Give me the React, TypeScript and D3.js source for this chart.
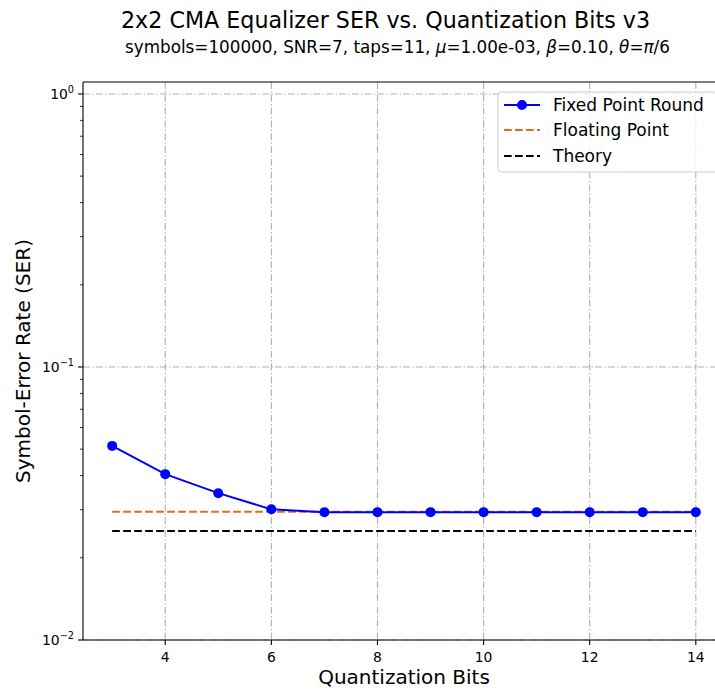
import React from 'react';
import * as d3 from 'd3';

// data
const bits = [3, 4, 5, 6, 7, 8, 9, 10, 11, 12, 13, 14];
const fixedRound = [0.0514, 0.0405, 0.0345, 0.0301, 0.0294, 0.0294, 0.0294, 0.0294, 0.0294, 0.0294, 0.0294, 0.0294];
const floatingPoint = [0.0295, 0.0295, 0.0295, 0.0295, 0.0295, 0.0295, 0.0295, 0.0295, 0.0295, 0.0295, 0.0295, 0.0295];
const theory = [0.0251, 0.0251, 0.0251, 0.0251, 0.0251, 0.0251, 0.0251, 0.0251, 0.0251, 0.0251, 0.0251, 0.0251];
const xTicks = [4, 6, 8, 10, 12, 14];
const yTicks = [1, 0.1, 0.01];
const yTickExp = ['0', '\u22121', '\u22122'];

const W = 715;
const H = 691;
const plot = { left: 83, right: 725, top: 82, bottom: 640 };
const FONT = '"DejaVu Sans", sans-serif';
const GRID_DASH = '7 2.2 1.4 2.2';

const App = () => {
  const x = d3.scaleLinear().domain([2.45, 14.55]).range([plot.left, plot.right]);
  const y = d3.scaleLog().domain([0.01, 1.106]).range([plot.bottom, plot.top]);

  const line = d3.line<number>()
    .x((d, i) => x(bits[i]))
    .y(d => y(d));

  // minor log ticks 2..9 in each decade
  const minor: number[] = [];
  [0.01, 0.1, 1].forEach(dec => {
    for (let k = 2; k <= 9; k++) {
      const v = dec * k;
      if (v <= 1.106) minor.push(v);
    }
  });

  return (
    <svg width={W} height={H} style={{ position: 'absolute', left: 0, top: 0 }} fontFamily={FONT}>
      <rect width={W} height={H} fill="#fff" />

      <text x={121} y={28} fontSize={22.2} fill="#000">
        2x2 CMA Equalizer SER vs. Quantization Bits v3
      </text>
      <text x={125} y={53} fontSize={16.8} fill="#000">
        symbols=100000, SNR=7, taps=11, <tspan fontStyle="italic">μ</tspan>=1.00e-03, <tspan fontStyle="italic">β</tspan>=0.10, <tspan fontStyle="italic">θ</tspan>=<tspan fontStyle="italic">π</tspan>/6
      </text>

      {/* grid */}
      <g stroke="#b0b0b0" strokeWidth={1.1} strokeDasharray={GRID_DASH}>
        {xTicks.map(t => (
          <line key={'gx' + t} x1={x(t)} x2={x(t)} y1={plot.top} y2={plot.bottom} />
        ))}
        {yTicks.map(t => (
          <line key={'gy' + t} x1={plot.left} x2={plot.right} y1={y(t)} y2={y(t)} />
        ))}
      </g>

      {/* series */}
      <path d={line(floatingPoint) || ''} fill="none" stroke="#e4691f" strokeWidth={2} strokeDasharray="7.7 3.3" />
      <path d={line(theory) || ''} fill="none" stroke="#000" strokeWidth={2} strokeDasharray="7.7 3.3" />
      <path d={line(fixedRound) || ''} fill="none" stroke="#0000ff" strokeWidth={2} />
      {fixedRound.map((v, i) => (
        <circle key={'p' + i} cx={x(bits[i])} cy={y(v)} r={5} fill="#0000ff" />
      ))}

      {/* spines */}
      <g stroke="#000" strokeWidth={1.1} fill="none">
        <line x1={plot.left} x2={plot.right} y1={plot.top} y2={plot.top} />
        <line x1={plot.left} x2={plot.right} y1={plot.bottom} y2={plot.bottom} />
        <line x1={plot.left} x2={plot.left} y1={plot.top} y2={plot.bottom} />
        <line x1={plot.right} x2={plot.right} y1={plot.top} y2={plot.bottom} />
      </g>

      {/* x axis ticks */}
      {xTicks.map(t => (
        <g key={'xt' + t}>
          <line x1={x(t)} x2={x(t)} y1={plot.bottom} y2={plot.bottom + 5} stroke="#000" strokeWidth={1.1} />
          <text x={x(t)} y={plot.bottom + 22} fontSize={13.9} textAnchor="middle">{t}</text>
        </g>
      ))}

      {/* y axis ticks */}
      {yTicks.map((t, i) => (
        <g key={'yt' + t}>
          <line x1={plot.left - 5} x2={plot.left} y1={y(t)} y2={y(t)} stroke="#000" strokeWidth={1.1} />
          <text x={plot.left - 9} y={y(t) + 5} fontSize={13.9} textAnchor="end">
            10<tspan fontSize={9.7} dy={-6}>{yTickExp[i]}</tspan>
          </text>
        </g>
      ))}
      {minor.map(t => (
        <line key={'ym' + t} x1={plot.left - 3} x2={plot.left} y1={y(t)} y2={y(t)} stroke="#000" strokeWidth={0.8} />
      ))}

      <text x={404} y={684} fontSize={20} textAnchor="middle">Quantization Bits</text>
      <text transform={`translate(30, ${(plot.top + plot.bottom) / 2}) rotate(-90)`} fontSize={20} textAnchor="middle">
        Symbol-Error Rate (SER)
      </text>

      {/* legend */}
      <g>
        <rect x={498} y={92} width={222} height={80} rx={3} fill="#fff" fillOpacity={0.8} stroke="#cccccc" strokeWidth={1} />
        <line x1={504} x2={540} y1={105} y2={105} stroke="#0000ff" strokeWidth={2} />
        <circle cx={522} cy={105} r={5} fill="#0000ff" />
        <text x={553} y={111} fontSize={17}>Fixed Point Round</text>
        <line x1={504} x2={540} y1={130} y2={130} stroke="#e4691f" strokeWidth={2} strokeDasharray="7.7 3.3" />
        <text x={553} y={136} fontSize={17}>Floating Point</text>
        <line x1={504} x2={540} y1={156} y2={156} stroke="#000" strokeWidth={2} strokeDasharray="7.7 3.3" />
        <text x={553} y={162} fontSize={17}>Theory</text>
      </g>
    </svg>
  );
};

export default App;
